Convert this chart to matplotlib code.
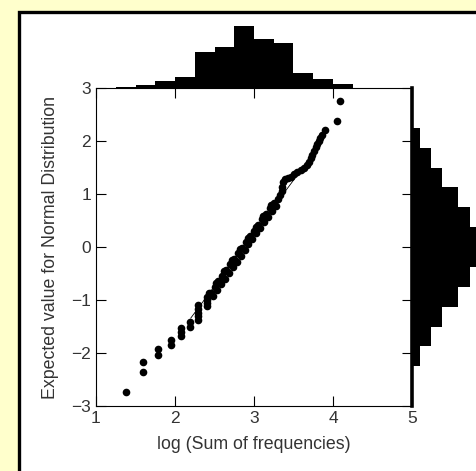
import matplotlib.pyplot as plt
from matplotlib.patches import Rectangle

plt.rcParams['font.family'] = ['Liberation Sans', 'DejaVu Sans']

# scatter points (log sum of frequencies, expected normal value)
x_vals = [1.38, 1.60, 1.60, 1.79, 1.79, 1.95, 1.95, 2.07, 2.07, 2.07,
          2.19, 2.19, 2.29, 2.29, 2.29, 2.29, 2.29, 2.40, 2.40, 2.40, 2.40,
          2.45, 2.50, 2.55, 2.60, 2.65, 2.70, 2.75, 2.80, 2.85, 2.90,
          2.95, 3.00, 3.05, 3.10, 3.15, 3.20, 3.25,
          2.48, 2.53, 2.58, 2.63, 2.68, 2.73, 2.78, 2.83, 2.88, 2.93,
          2.98, 3.03, 3.08, 3.13, 3.18, 3.23, 3.28,
          2.43, 2.52, 2.62, 2.72, 2.82, 2.92, 3.02, 3.12, 3.22,
          3.30, 3.33, 3.35, 3.36, 3.37, 3.39, 3.43, 3.47, 3.51, 3.55,
          3.59, 3.63, 3.67, 3.70, 3.72, 3.74, 3.76, 3.78, 3.80, 3.82,
          3.84, 3.86, 3.90, 4.05, 4.09]
y_vals = [-2.74, -2.17, -2.36, -1.93, -2.04, -1.76, -1.84, -1.53, -1.60, -1.68,
          -1.42, -1.50, -1.10, -1.17, -1.24, -1.31, -1.38, -0.94, -1.00, -1.06, -1.12,
          -0.86, -0.75, -0.65, -0.54, -0.44, -0.33, -0.22, -0.12, -0.01, 0.10,
          0.20, 0.31, 0.41, 0.52, 0.62, 0.73, 0.83,
          -0.92, -0.81, -0.70, -0.60, -0.49, -0.38, -0.28, -0.17, -0.06, 0.05,
          0.15, 0.26, 0.36, 0.47, 0.57, 0.68, 0.78,
          -0.86, -0.67, -0.46, -0.25, -0.04, 0.17, 0.38, 0.59, 0.80,
          0.90, 0.98, 1.06, 1.14, 1.22, 1.29, 1.31, 1.33, 1.37, 1.42,
          1.46, 1.50, 1.54, 1.60, 1.67, 1.74, 1.81, 1.88, 1.94, 2.00,
          2.06, 2.12, 2.20, 2.38, 2.75]

# reference line
line_x = [2.2, 3.55]
line_y = [-1.34, 1.36]

# top histogram (x values)
top_edges = [1.25, 1.5, 1.75, 2.0, 2.25, 2.5, 2.75, 3.0, 3.25, 3.5, 3.75, 4.0]
top_counts = [1, 3, 7, 11, 36, 41, 62, 49, 45, 15, 9, 4]

# right histogram (normal values)
right_edges = [-2.25, -1.875, -1.5, -1.125, -0.75, -0.375, 0.0, 0.375, 0.75, 1.125, 1.5, 1.875]
right_counts = [8, 19, 30, 46, 58, 67, 67, 58, 46, 30, 19, 8]

W, H = 477, 471
fig = plt.figure(figsize=(W / 100, H / 100), dpi=100)
fig.patch.set_facecolor('#FFFFCC')

panel = Rectangle((18.5 / W, -0.1), 2.0, 1.1 - 11.5 / H, transform=fig.transFigure,
                  facecolor='white', edgecolor='black', linewidth=2.4, zorder=-5)
fig.add_artist(panel)

ax = fig.add_axes([96 / W, 1 - 406 / H, 316 / W, 318 / H])
ax.plot(x_vals, y_vals, 'o', color='black', markersize=5.5, markeredgewidth=0)
ax.plot(line_x, line_y, color='black', linewidth=0.6)
ax.set_xlim(1, 5)
ax.set_ylim(-3, 3)
ax.set_xticks([1, 2, 3, 4, 5])
ax.set_yticks([-3, -2, -1, 0, 1, 2, 3])
ax.tick_params(direction='in', length=7.5, width=0.8, top=True, right=True,
               labelsize=12.5, labelcolor='#333333', pad=3.5)
for s in ['left', 'bottom', 'top']:
    ax.spines[s].set_linewidth(0.8)
ax.spines['right'].set_linewidth(2.6)
ax.set_xlabel('log (Sum of frequencies)', fontsize=12.8, color='#333333', labelpad=7)
ax.set_ylabel('Expected value for Normal Distribution', fontsize=12.8, color='#333333', labelpad=9)

ax_top = fig.add_axes([96 / W, 1 - 88 / H, 316 / W, 70 / H])
ax_top.bar(top_edges, top_counts, width=0.25, align='edge', color='black')
ax_top.set_xlim(1, 5)
ax_top.set_ylim(0, 70)
ax_top.axis('off')

ax_right = fig.add_axes([412 / W, 1 - 406 / H, 75 / W, 318 / H])
ax_right.barh(right_edges, right_counts, height=0.375, align='edge', color='black')
ax_right.set_xlim(0, 75)
ax_right.set_ylim(-3, 3)
ax_right.axis('off')

fig.savefig('out.png', dpi=100, facecolor=fig.get_facecolor())
